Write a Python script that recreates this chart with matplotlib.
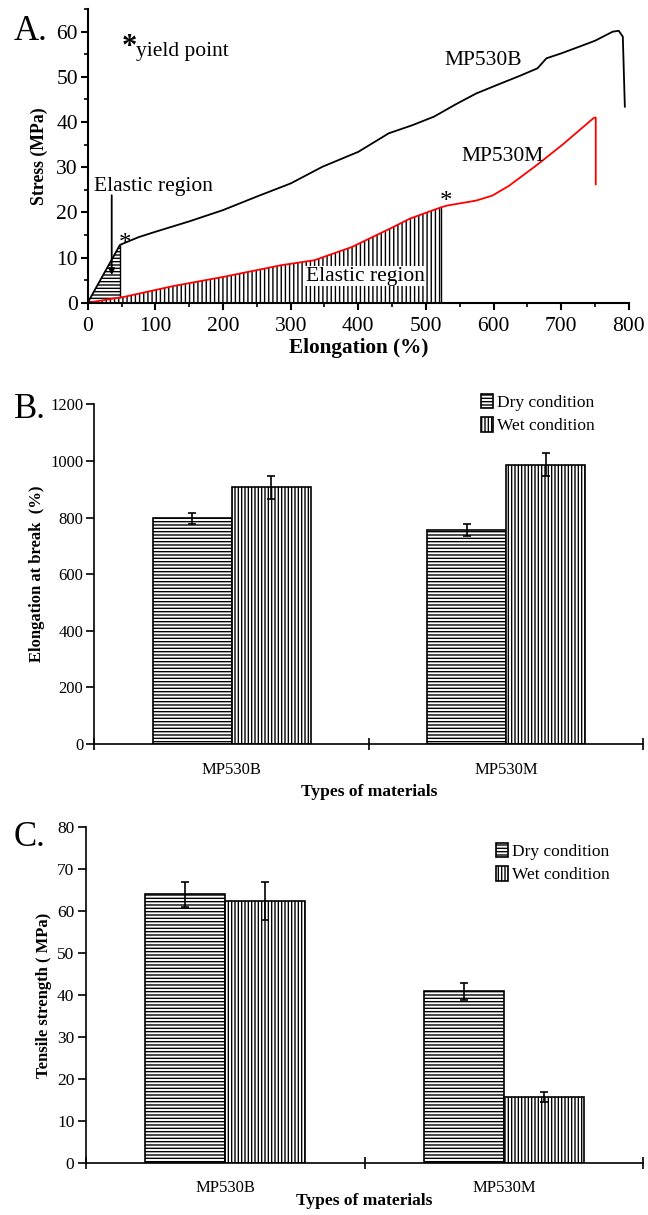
import numpy as np
import matplotlib
matplotlib.use('Agg')
import matplotlib.pyplot as plt
from matplotlib.ticker import MultipleLocator

plt.rcParams['font.family'] = 'serif'
plt.rcParams['font.serif'] = ['Liberation Serif', 'DejaVu Serif']
plt.rcParams['hatch.linewidth'] = 1.0

# --- Panel A: stress-strain curves ---
b_x = [0, 47.7, 75, 100, 150, 200, 250, 300, 347, 400, 445, 480, 512, 545, 574, 605, 640, 665, 678, 700, 727, 750, 776, 785, 791, 794]
b_y = [0, 12.8, 14.5, 15.7, 18.0, 20.5, 23.5, 26.4, 30.1, 33.4, 37.5, 39.3, 41.2, 44.0, 46.3, 48.2, 50.3, 51.9, 54.1, 55.2, 56.7, 58.0, 60.0, 60.2, 58.9, 43.4]
m_x = [0, 54, 127, 200, 286, 335, 390, 451, 476, 522, 531, 574, 598, 623, 665, 702, 748, 751, 751]
m_y = [0, 1.3, 3.7, 5.7, 8.3, 9.4, 12.3, 16.7, 18.6, 21.1, 21.5, 22.6, 23.7, 25.9, 30.6, 35.0, 40.9, 41.0, 26.2]
b_yield = 47.7   # elongation at yield, MP530B
m_yield = 522    # elongation at yield, MP530M

# --- Panels B and C: bar data ---
materials = ['MP530B', 'MP530M']
conditions = ['Dry condition', 'Wet condition']
elong_dry = [797, 755]
elong_dry_err = [20, 22]
elong_wet = [907, 987]
elong_wet_err = [40, 42]
tensile_dry = [63.9, 40.9]
tensile_dry_err = [3.0, 2.0]
tensile_wet = [62.3, 15.7]
tensile_wet_err = [4.5, 1.2]

W, H = 648, 1215
fig = plt.figure(figsize=(W / 100, H / 100), dpi=100)


def px_axes(left, top, right, bottom):
    return fig.add_axes([left / W, 1 - bottom / H, (right - left) / W, (bottom - top) / H])


# ================= A =================
axA = px_axes(87.7, 9.1, 628.9, 302.7)
bx = np.array(b_x); by = np.array(b_y)
mx = np.array(m_x); my = np.array(m_y)

# hatched elastic regions
sel = mx <= m_yield
axA.fill_between(mx[sel], 0, my[sel], facecolor='none', edgecolor='black',
                 linewidth=0, hatch='||||')
axA.vlines(m_yield, 0, np.interp(m_yield, mx[:10], my[:10]), color='black', lw=1)
selb = bx <= b_yield
axA.fill_between(bx[selb], np.interp(bx[selb], mx[:10], my[:10]), by[selb],
                 facecolor='none', edgecolor='black', linewidth=0, hatch='-----')
axA.vlines(b_yield, np.interp(b_yield, mx[:10], my[:10]), 12.8, color='black', lw=1)

axA.plot(bx, by, color='black', lw=1.3)
axA.plot(mx, my, color='red', lw=1.3)

axA.text(b_yield - 2, 13.0, '*', fontsize=18, ha='left', va='center')
axA.text(m_yield - 2, 22.3, '*', fontsize=18, ha='left', va='center')
axA.text(50, 56.5, '*', fontsize=22, ha='left', va='center', fontweight='bold')
axA.text(71, 55.6, 'yield point', fontsize=15.5, ha='left', va='center')
axA.text(528, 53.6, 'MP530B', fontsize=15.5, ha='left', va='center')
axA.text(553, 32.4, 'MP530M', fontsize=15.5, ha='left', va='center')
axA.text(9, 25.8, 'Elastic region', fontsize=15.5, ha='left', va='center')
axA.text(322, 5.9, 'Elastic region', fontsize=15.5, ha='left', va='center',
         bbox=dict(facecolor='white', edgecolor='none', pad=0.5))
axA.annotate('', xy=(35.5, 5.5), xytext=(35.5, 24.4),
             arrowprops=dict(arrowstyle='-|>', color='black', lw=1.3, mutation_scale=9))

axA.set_xlim(0, 800)
axA.set_ylim(0, 65)
axA.xaxis.set_major_locator(MultipleLocator(100))
axA.xaxis.set_minor_locator(MultipleLocator(50))
axA.yaxis.set_minor_locator(MultipleLocator(5))
axA.set_yticks([0, 10, 20, 30, 40, 50, 60])
for s in ['top', 'right']:
    axA.spines[s].set_visible(False)
for s in ['left', 'bottom']:
    axA.spines[s].set_linewidth(1.5)
axA.tick_params(which='major', direction='out', length=5, width=1.5, labelsize=15.5, pad=5)
axA.tick_params(axis='y', which='major', pad=2)
axA.tick_params(which='minor', direction='out', length=3, width=1.2)
axA.set_xlabel('Elongation (%)', fontsize=15.3, fontweight='bold', labelpad=2)
axA.set_ylabel('Stress (MPa)', fontsize=12.8, fontweight='bold', labelpad=6)
fig.text(14 / W, 1 - 32 / H, 'A.', fontsize=25, va='center', ha='left')


# ================= B and C =================
def bar_panel(ax, dry, dry_err, wet, wet_err, ymax, ystep, ylabel, lab_size, tpad, lpad):
    centers = np.array([0.5, 1.5])
    bw = 0.288
    ax.bar(centers - bw / 2, dry, bw, color='white', edgecolor='black', lw=1.2,
           hatch='-----', label=conditions[0])
    ax.bar(centers + bw / 2, wet, bw, color='white', edgecolor='black', lw=1.2,
           hatch='|||||', label=conditions[1])
    ax.errorbar(centers - bw / 2, dry, yerr=dry_err, fmt='none', ecolor='black',
                elinewidth=1.2, capsize=3, capthick=1.2)
    ax.errorbar(centers + bw / 2, wet, yerr=wet_err, fmt='none', ecolor='black',
                elinewidth=1.2, capsize=3, capthick=1.2)
    ax.set_xlim(0, 2)
    ax.set_ylim(0, ymax)
    ax.set_yticks(np.arange(0, ymax + 1, ystep))
    ax.set_xticks([0, 1, 2])
    ax.set_xticklabels([])
    ax.set_xticks(centers, minor=True)
    ax.set_xticklabels(materials, minor=True)
    ax.tick_params(axis='x', which='minor', length=0, labelsize=12, pad=tpad)
    ax.tick_params(axis='x', which='major', direction='inout', length=9, width=1.2)
    ax.tick_params(axis='y', direction='out', length=6, width=1.2, labelsize=lab_size, pad=2)
    for s in ['top', 'right']:
        ax.spines[s].set_visible(False)
    for s in ['left', 'bottom']:
        ax.spines[s].set_linewidth(1.2)
    ax.set_ylabel(ylabel, fontsize=12, fontweight='bold')
    ax.set_xlabel('Types of materials', fontsize=12.5, fontweight='bold', labelpad=lpad)


axB = px_axes(94.3, 404.3, 643.4, 744)
bar_panel(axB, elong_dry, elong_dry_err, elong_wet, elong_wet_err, 1200, 200,
          'Elongation at break  (%)', 12, 13, 4)
axB.legend(loc='upper left', bbox_to_anchor=(481 / W, 1 - 394 / H),
           bbox_transform=fig.transFigure, frameon=False, fontsize=12.5,
           handlelength=0.7, handleheight=0.9, handletextpad=0.25,
           labelspacing=0.35, borderpad=0, borderaxespad=0)
fig.text(14 / W, 1 - 410 / H, 'B.', fontsize=25, va='center', ha='left')

axC = px_axes(85.6, 826.7, 643.4, 1163.3)
bar_panel(axC, tensile_dry, tensile_dry_err, tensile_wet, tensile_wet_err, 80, 10,
          'Tensile strength ( MPa)', 12.5, 12, -2)
axC.legend(loc='upper left', bbox_to_anchor=(496 / W, 1 - 843 / H),
           bbox_transform=fig.transFigure, frameon=False, fontsize=12.5,
           handlelength=0.7, handleheight=0.9, handletextpad=0.25,
           labelspacing=0.35, borderpad=0, borderaxespad=0)
fig.text(14 / W, 1 - 838 / H, 'C.', fontsize=25, va='center', ha='left')

fig.savefig('out.png', dpi=100)
